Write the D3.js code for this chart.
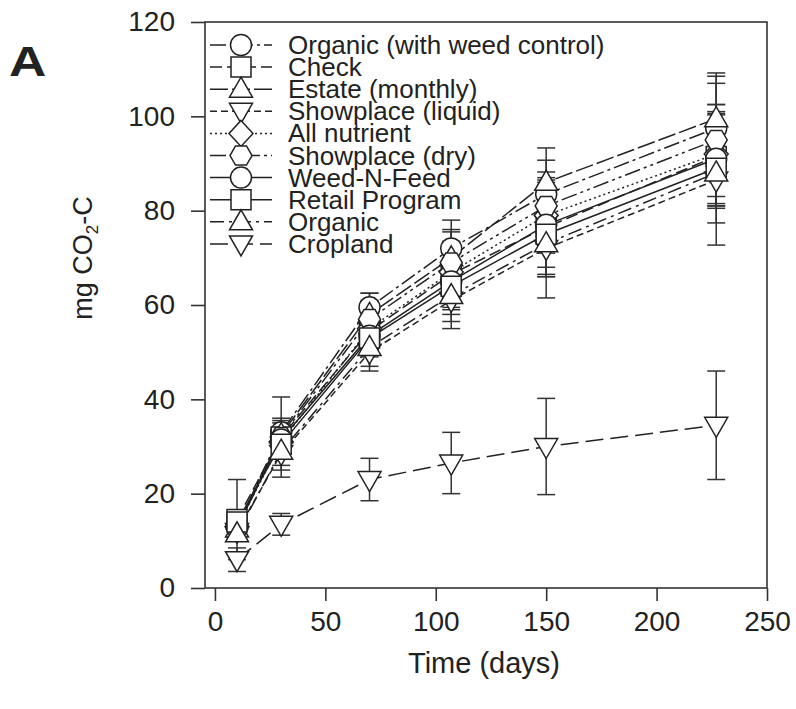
<!DOCTYPE html>
<html>
<head>
<meta charset="utf-8">
<script src="https://cdn.jsdelivr.net/npm/d3@7"></script>
<style>
  body { margin: 0; background: #fff; }
  text { font-family: "Liberation Sans", Arial, sans-serif; fill: #222; }
</style>
</head>
<body>
<script>
// size of page
var w = 796;
var h = 709;

// data
var days = [10, 30, 70, 107, 150, 227];
var seriesNames = ["Organic (with weed control)", "Check", "Estate (monthly)", "Showplace (liquid)",
  "All nutrient", "Showplace (dry)", "Weed-N-Feed", "Retail Program", "Organic", "Cropland"];

var organicWC   = [13, 33, 59.5, 72, 83.5, 97.5];
var check       = [14.5, 32, 54.5, 66.5, 76.5, 91.5];
var estate      = [12.5, 32.5, 58, 70, 86, 99.5];
var showLiquid  = [12, 28.5, 50, 61, 72, 86.5];
var allNutrient = [13, 31, 55, 67, 79, 92];
var showDry     = [12.5, 32, 57, 69, 81, 95];
var weedNFeed   = [13.5, 31.5, 53.5, 65, 77, 91];
var retail      = [14, 30.5, 53, 64, 75, 89];
var organic     = [11.5, 29, 51, 62, 73, 88];
var cropland    = [6, 13.5, 23, 26.5, 30, 34.5];

// standard errors
var organicWCErr   = [2, 3, 3, 6, 7.2, 11];
var checkErr       = [8.5, 8.5, 4, 7, 10, 11];
var estateErr      = [1.5, 3, 4.5, 6, 7.3, 9.7];
var showLiquidErr  = [2, 3.5, 4, 6, 10.5, 13.8];
var allNutrientErr = [1.5, 3, 4, 6, 8, 10.5];
var showDryErr     = [1.5, 3, 4, 6.5, 7.2, 12];
var weedNFeedErr   = [2, 2.5, 4, 6, 9, 10];
var retailErr      = [1.5, 3, 4, 6, 9, 11.6];
var organicErr     = [1.5, 3, 4, 5.5, 7, 7];
var croplandErr    = [2.5, 2.3, 4.5, 6.5, 10.2, 11.5];

var xTicks = [0, 50, 100, 150, 200, 250];
var yTicks = [0, 20, 40, 60, 80, 100, 120];

var allVals = [organicWC, check, estate, showLiquid, allNutrient, showDry, weedNFeed, retail, organic, cropland];
var allErrs = [organicWCErr, checkErr, estateErr, showLiquidErr, allNutrientErr, showDryErr, weedNFeedErr, retailErr, organicErr, croplandErr];
var shapes = ["circle", "square", "triangle", "triangleDown", "diamond", "hexagon", "circle", "square", "triangle", "triangleDown"];
var dashes = ["16,4,3,4", "12,5", "18,4", "7,4", "2,3", "16,4,3,4,3,4", null, null, "14,5,3,5", "18,7"];

var series = seriesNames.map(function(n, i) {
  return {
    name: n, shape: shapes[i], dash: dashes[i],
    pts: days.map(function(d, j) { return {x: d, y: allVals[i][j], e: allErrs[i][j]}; })
  };
});

// marker path, centred at 0,0
function markerPath(shape) {
  var r = 10.5;
  if (shape == "circle") return d3.symbol(d3.symbolCircle, Math.PI * r * r)();
  if (shape == "square") return "M-10,-10H10V10H-10Z";
  if (shape == "triangle") return "M0,-12L11.5,8L-11.5,8Z";
  if (shape == "triangleDown") return "M0,12L11.5,-8L-11.5,-8Z";
  if (shape == "diamond") return "M0,-13L12,0L0,13L-12,0Z";
  if (shape == "hexagon") {
    var p = d3.range(6).map(function(k) {
      var a = Math.PI / 3 * k;
      return [11 * Math.cos(a), 11 * Math.sin(a)];
    });
    return "M" + p.join("L") + "Z";
  }
}

var svg = d3.select("body").append("svg")
  .attr("width", w)
  .attr("height", h);

var xScale = d3.scaleLinear().domain([-4.5, 250]).range([205, 767]);
var yScale = d3.scaleLinear().domain([0, 120]).range([588, 22]);

/**** frame ****/
svg.append("rect")
  .attr("x", xScale(-4.5)).attr("y", yScale(120))
  .attr("width", xScale(250) - xScale(-4.5))
  .attr("height", yScale(0) - yScale(120))
  .attr("fill", "none").attr("stroke", "#333").attr("stroke-width", 1.6);

/**** axes ****/
var xAxis = d3.axisBottom(xScale).tickValues(xTicks).tickSize(13).tickPadding(10);
var yAxis = d3.axisLeft(yScale).tickValues(yTicks).tickSize(14).tickPadding(16);

svg.append("g")
  .attr("transform", "translate(0," + yScale(0) + ")")
  .call(xAxis)
  .call(function(g) { g.select(".domain").remove(); });
svg.append("g")
  .attr("transform", "translate(" + xScale(-4.5) + ",0)")
  .call(yAxis)
  .call(function(g) { g.select(".domain").remove(); });

svg.selectAll(".tick line").attr("stroke", "#333").attr("stroke-width", 1.6);
svg.selectAll(".tick text")
  .attr("font-size", 28)
  .attr("font-family", "'Liberation Sans', Arial, sans-serif")
  .attr("fill", "#222");

/**** axis titles ****/
svg.append("text")
  .attr("x", 484)
  .attr("y", 673)
  .attr("text-anchor", "middle")
  .attr("font-size", 29)
  .text("Time (days)");

var yt = svg.append("text")
  .attr("transform", "translate(92," + 258 + ") rotate(-90)")
  .attr("text-anchor", "middle")
  .attr("font-size", 27);
yt.append("tspan").text("mg CO");
yt.append("tspan").attr("font-size", 17).attr("dy", 6).text("2");
yt.append("tspan").attr("dy", -6).text("-C");

svg.append("text")
  .attr("transform", "translate(9,76) scale(1.2,1)")
  .attr("font-size", 43)
  .attr("font-weight", "bold")
  .text("A");

/**** lines ****/
var line = d3.line()
  .x(function(d) { return xScale(d.x); })
  .y(function(d) { return yScale(d.y); });

svg.selectAll(".series")
  .data(series)
  .enter()
  .append("path")
  .attr("class", "series")
  .attr("d", function(s) { return line(s.pts); })
  .attr("fill", "none")
  .attr("stroke", "#222")
  .attr("stroke-width", 1.5)
  .attr("stroke-dasharray", function(s) { return s.dash; });

/**** error bars ****/
var capW = 9;
series.forEach(function(s) {
  var g = svg.append("g").attr("stroke", "#333").attr("stroke-width", 1.5);
  g.selectAll("line.v")
    .data(s.pts).enter().append("line")
    .attr("x1", function(d) { return xScale(d.x); })
    .attr("x2", function(d) { return xScale(d.x); })
    .attr("y1", function(d) { return yScale(d.y - d.e); })
    .attr("y2", function(d) { return yScale(d.y + d.e); });
  g.selectAll("line.t")
    .data(s.pts).enter().append("line")
    .attr("x1", function(d) { return xScale(d.x) - capW; })
    .attr("x2", function(d) { return xScale(d.x) + capW; })
    .attr("y1", function(d) { return yScale(d.y + d.e); })
    .attr("y2", function(d) { return yScale(d.y + d.e); });
  g.selectAll("line.b")
    .data(s.pts).enter().append("line")
    .attr("x1", function(d) { return xScale(d.x) - capW; })
    .attr("x2", function(d) { return xScale(d.x) + capW; })
    .attr("y1", function(d) { return yScale(d.y - d.e); })
    .attr("y2", function(d) { return yScale(d.y - d.e); });
});

/**** markers ****/
series.forEach(function(s) {
  svg.append("g").selectAll("path")
    .data(s.pts).enter().append("path")
    .attr("d", markerPath(s.shape))
    .attr("transform", function(d) { return "translate(" + xScale(d.x) + "," + yScale(d.y) + ")"; })
    .attr("fill", "white")
    .attr("stroke", "#222")
    .attr("stroke-width", 1.5);
});

/**** legend ****/
var legend = svg.append("g");
var rowY = function(i) { return 45 + i * 22.1; };
series.forEach(function(s, i) {
  var y = rowY(i);
  legend.append("line")
    .attr("x1", 210).attr("x2", 272)
    .attr("y1", y).attr("y2", y)
    .attr("stroke", "#222").attr("stroke-width", 1.5)
    .attr("stroke-dasharray", s.dash);
  legend.append("path")
    .attr("d", markerPath(s.shape))
    .attr("transform", "translate(241," + y + ")")
    .attr("fill", "white").attr("stroke", "#222").attr("stroke-width", 1.5);
  legend.append("text")
    .attr("x", 288).attr("y", y + 9)
    .attr("font-size", 26)
    .text(s.name);
});
</script>
</body>
</html>
